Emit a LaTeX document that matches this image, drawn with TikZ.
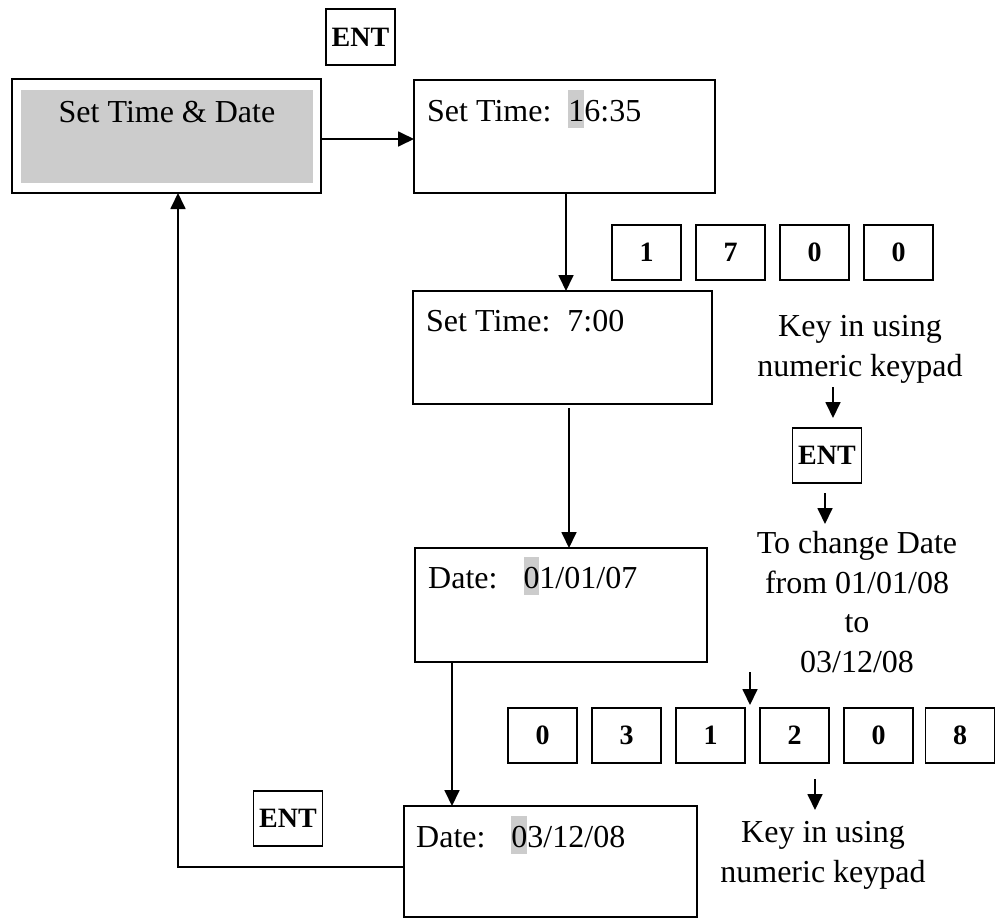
\documentclass[tikz,border=0pt]{standalone}
\usepackage{fontspec}
\setmainfont{Liberation Serif}
\usetikzlibrary{arrows.meta}
\definecolor{hlgray}{RGB}{204,204,204}
\newcommand\hlt[1]{{\setlength{\fboxsep}{0pt}\colorbox{hlgray}{\rule[-7pt]{0pt}{38pt}#1}}}
\tikzset{
  screen/.style={draw, line width=1.5pt, inner sep=0pt, outer sep=0pt},
  keybox/.style={draw, line width=1.3pt, minimum width=69pt, minimum height=55pt, inner sep=0pt, outer sep=0pt, font=\fontsize{28}{30}\selectfont\bfseries},
  scrtext/.style={anchor=base west, inner sep=0pt, font=\fontsize{32}{38}\selectfont},
  note/.style={align=center, anchor=base, inner sep=0pt, font=\fontsize{32}{39.5}\selectfont},
  arr/.style={line width=1.8pt, -{Triangle[length=16pt,width=15pt]}},
}
\begin{document}
\begin{tikzpicture}[x=1pt,y=-1pt]
\useasboundingbox (0,0) rectangle (997,919);
% screens
\node[screen, minimum width=309pt, minimum height=114pt] (A) at (166.5,136) {};
\fill[hlgray] (21,90) rectangle (313,183);
\node[anchor=base, inner sep=0pt, font=\fontsize{32}{38}\selectfont] (At) at (167,122) {Set Time \& Date};
\node[screen, minimum width=301pt, minimum height=113pt] (B) at (564.5,136.5) {};
\node[scrtext] (Bt) at (427,121) {Set Time:\hspace{17pt}\hlt{1}6:35};
\node[screen, minimum width=299pt, minimum height=113pt] (C) at (562.5,347.5) {};
\node[scrtext] (Ct) at (426,331) {Set Time:\hspace{17pt}7:00};
\node[screen, minimum width=292pt, minimum height=114pt] (D) at (561,605) {};
\node[scrtext] (Dt) at (428,588) {Date:\hspace{26pt}\hlt{0}1/01/07};
\node[screen, minimum width=293pt, minimum height=111pt] (E) at (550.5,861.5) {};
\node[scrtext] (Et) at (416,847) {Date:\hspace{26pt}\hlt{0}3/12/08};
% ENT keys
\node[keybox, minimum height=56pt] (ent1) at (360.5,37) {ENT};
\node[keybox] (ent2) at (827,455.5) {ENT};
\node[keybox] (ent3) at (288,818.5) {ENT};
% time keys
\node[keybox] (t1) at (646.5,252.5) {1};
\node[keybox] (t2) at (730.5,252.5) {7};
\node[keybox] (t3) at (814.5,252.5) {0};
\node[keybox] (t4) at (898.5,252.5) {0};
% date keys
\node[keybox] (d1) at (542.5,735.5) {0};
\node[keybox] (d2) at (626.5,735.5) {3};
\node[keybox] (d3) at (710.5,735.5) {1};
\node[keybox] (d4) at (794.5,735.5) {2};
\node[keybox] (d5) at (878.5,735.5) {0};
\node[keybox] (d6) at (960,735.5) {8};
% notes (anchor base = baseline of last line)
\node[note] (kp1) at (860,376) {Key in using\\numeric keypad};
\node[note] (chg) at (857,672) {To change Date\\from 01/01/08\\to\\03/12/08};
\node[note] (kp2) at (823,882) {Key in using\\numeric keypad};
% helper coordinates
\coordinate (yab) at (0,139);
\coordinate (xbc) at (566,0);
\coordinate (xcd) at (569,0);
\coordinate (xde) at (452,0);
\coordinate (ret) at (178,867);
\coordinate (s1a) at (833,387);
\coordinate (s2a) at (825,493);
\coordinate (s2b) at (825,524);
\coordinate (s3a) at (750,672);
\coordinate (s3b) at (750,705);
\coordinate (s4a) at (815,779);
\coordinate (s4b) at (815,810);
% connectors
\draw[arr] (A.east |- yab) -- (B.west |- yab);
\draw[arr] (B.south -| xbc) -- (C.north -| xbc);
\draw[arr, shorten <=4pt] (C.south -| xcd) -- (D.north -| xcd);
\draw[arr] (D.south -| xde) -- (E.north -| xde);
\draw[arr] (ret -| E.west) -- (ret) -- (A.south -| ret);
\draw[arr, shorten >=10pt] (s1a) -- (ent2.north -| s1a);
\draw[arr] (s2a) -- (s2b);
\draw[arr] (s3a) -- (s3b);
\draw[arr] (s4a) -- (s4b);
\end{tikzpicture}
\end{document}
